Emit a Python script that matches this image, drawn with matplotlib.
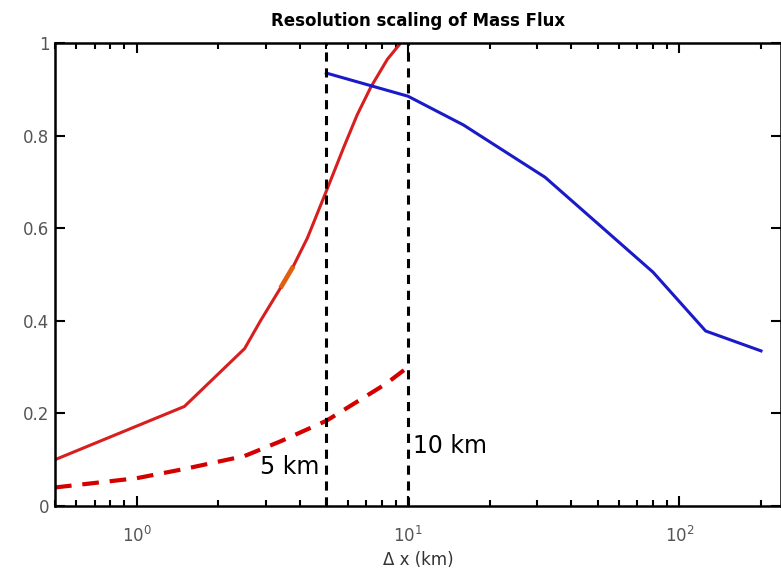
import numpy as np
import matplotlib
matplotlib.use('Agg')
import matplotlib.pyplot as plt

# red solid (high-res scaling)
red_x = [0.5, 1.5, 2.5, 2.86, 3.39, 3.78, 4.26, 5.0, 5.8, 6.5, 7.3, 8.4, 9.4]
red_y = [0.10, 0.215, 0.34, 0.40, 0.471, 0.518, 0.579, 0.68, 0.775, 0.845, 0.905, 0.965, 1.0]
# small orange bit on the red curve
orange_x = [3.39, 3.78]
orange_y = [0.471, 0.518]

# blue (coarse scaling)
blue_x = [5, 10, 16, 32, 80, 125, 200]
blue_y = [0.935, 0.885, 0.823, 0.71, 0.505, 0.378, 0.335]

# red dashed
dash_x = [0.5, 1.0, 1.5, 2.5, 3.4, 5.0, 8.3, 10.0]
dash_y = [0.04, 0.06, 0.08, 0.108, 0.14, 0.184, 0.264, 0.30]

vlines = [5, 10]

fig = plt.figure(figsize=(7.81, 5.70), dpi=100)
ax = fig.add_axes([0.0704, 0.1123, 0.9296, 0.8123])

ax.plot(red_x, red_y, color='#d81e1e', lw=2.2, solid_capstyle='butt')
ax.plot(orange_x, orange_y, color='#e06010', lw=3.4, solid_capstyle='butt')
ax.plot(blue_x, blue_y, color='#1a1ac8', lw=2.2)
ax.plot(dash_x, dash_y, color='#d40000', lw=3, dashes=(4, 2.6))
for v in vlines:
    ax.plot([v, v], [0, 1], color='black', lw=2.2, dashes=(3, 2.2))

ax.set_xscale('log')
ax.set_xlim(0.5, 237)
ax.set_ylim(0, 1)
ax.set_yticks([0, 0.2, 0.4, 0.6, 0.8, 1.0])
ax.set_yticklabels(['0', '0.2', '0.4', '0.6', '0.8', '1'])

ax.tick_params(which='both', direction='in', top=True, right=True,
               labelsize=12, labelcolor='#555555', width=1.5)
ax.tick_params(axis='x', which='major', length=7, pad=14)
ax.tick_params(axis='y', which='major', length=7, pad=4)
ax.tick_params(which='minor', length=4)
for s in ax.spines.values():
    s.set_linewidth(1.8)

ax.text(4.7, 0.085, '5 km', fontsize=17, ha='right', va='center')
ax.text(10.4, 0.13, '10 km', fontsize=17, ha='left', va='center')

ax.set_title('Resolution scaling of Mass Flux', fontsize=12, fontweight='bold', pad=12)
ax.set_xlabel('\u0394 x (km)', fontsize=12, labelpad=4, color='#333333')

fig.savefig('out.png', dpi=100)
